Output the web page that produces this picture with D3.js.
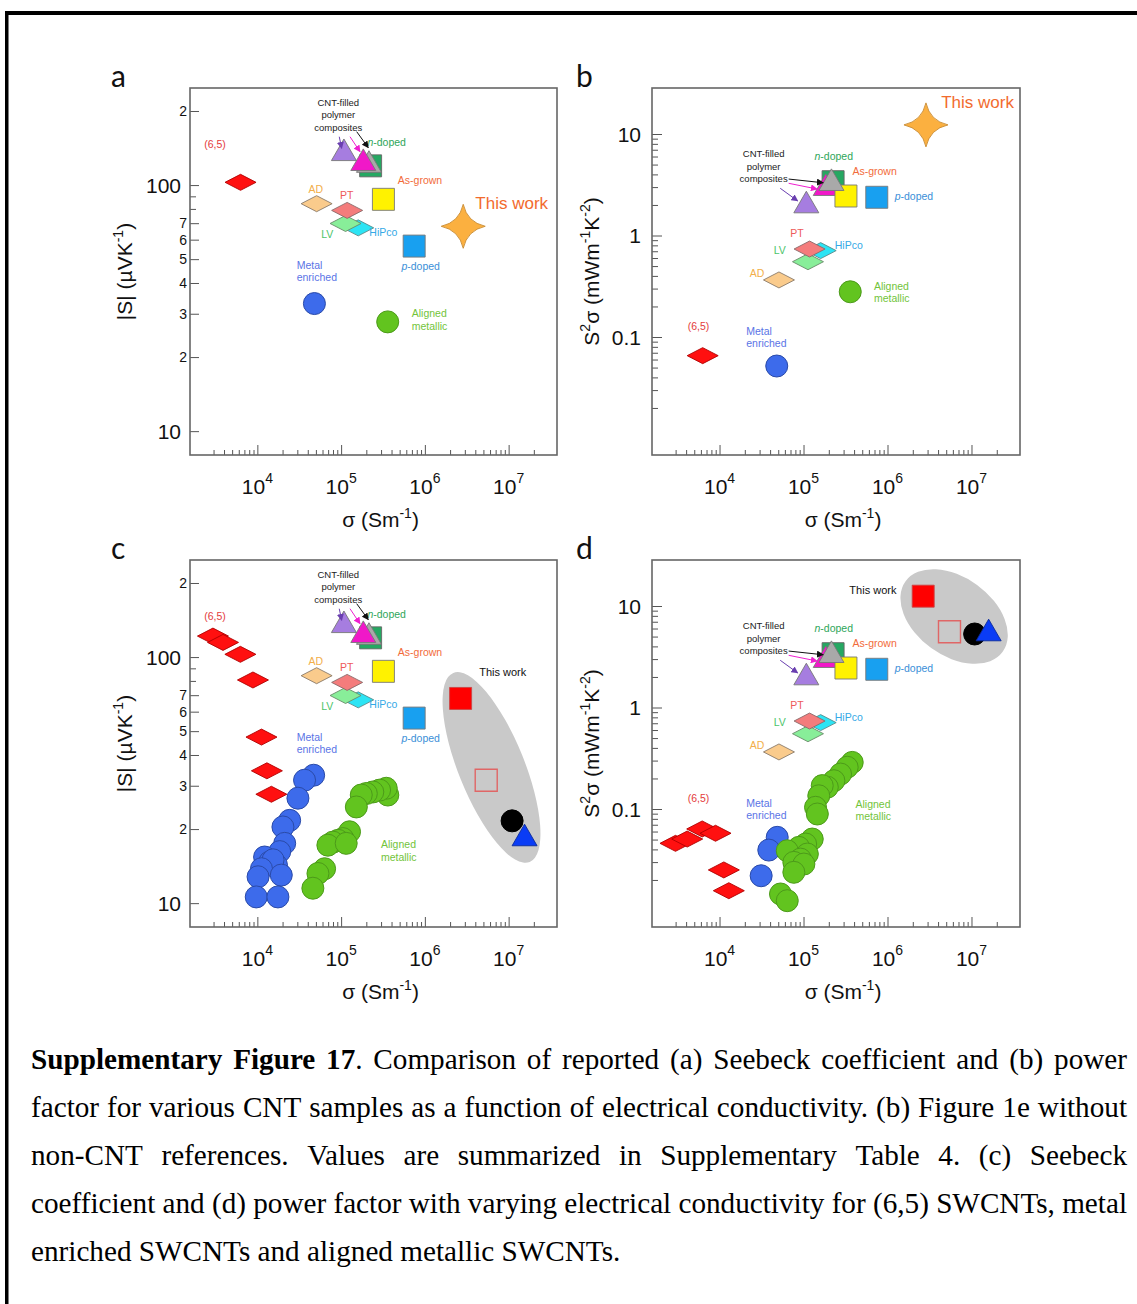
<!DOCTYPE html>
<html><head><meta charset="utf-8">
<script src="https://cdn.jsdelivr.net/npm/d3@7"></script>
<style>body{margin:0;background:#fff}svg{display:block}</style>
</head><body>
<svg id="fig" width="1137" height="1304"></svg>
<script>
// ---------------- DATA ----------------
// reported CNT samples (panels a/b and reference markers of c/d)
const refSamples = ["AD","PT","LV","HiPco","As-grown","p-doped","n-doped","Composite 1","Composite 2","Composite 3","Metal enriched","Aligned metallic","(6,5)","This work"];
const refSigma   = [5.1e4, 1.18e5, 1.13e5, 1.6e5, 3.2e5, 7.45e5, 2.25e5, 1.08e5, 1.84e5, 2.15e5, 4.8e4, 3.6e5, 6.3e3, 2.87e6];
const refSeebeck = [84, 78.9, 69.8, 67, 87.5, 56.5, 119.7, 134.5, 122.6, 120.5, 33, 27.8, 102.6, 68];
const refPF      = [0.365, 0.736, 0.552, 0.71, 2.45, 2.38, 3.39, 1.97, 2.92, 3.27, 0.0518, 0.279, 0.0655, 12.3];

// panel c : (6,5), metal enriched, aligned metallic series
const c65Sigma = [2.95e3, 3.89e3, 6.27e3, 8.86e3, 1.12e4, 1.30e4, 1.47e4];
const c65S     = [121.7, 114.7, 102.6, 80.7, 47.3, 34.5, 27.7];
const cMetalSigma = [4.70e4, 3.66e4, 3.05e4, 2.43e4, 2.02e4, 2.12e4, 1.85e4, 1.22e4, 1.40e4, 1.69e4, 1.54e4, 1.12e4, 1.93e4, 1.02e4, 9.7e3, 1.76e4];
const cMetalS     = [33.1, 31.6, 26.7, 21.7, 20.4, 17.5, 16.2, 15.4, 14.7, 14.3, 15.0, 13.8, 13.0, 12.8, 10.6, 10.6];
const cAlignSigma = [3.61e5, 3.46e5, 2.88e5, 2.39e5, 2.0e5, 1.74e5, 1.52e5, 1.26e5, 1.05e5, 9.2e4, 7.98e4, 6.95e4, 1.15e5, 6.35e4, 5.29e4, 4.6e4];
const cAlignS     = [27.5, 29.3, 28.8, 28.3, 27.9, 27.5, 24.6, 19.5, 18.3, 18.0, 17.7, 17.2, 17.5, 13.8, 13.2, 11.5];

// panel d
const d65Sigma = [2.99e3, 4.12e3, 6.22e3, 8.96e3, 1.125e4, 1.29e4];
const d65PF    = [0.0459, 0.0506, 0.0636, 0.0577, 0.0251, 0.01567];
const dMetalSigma = [4.86e4, 3.86e4, 3.13e4];
const dMetalPF    = [0.0526, 0.0394, 0.0220];
const dAlignSigma = [3.80e5, 3.31e5, 2.76e5, 2.30e5, 1.92e5, 1.67e5, 1.52e5, 1.39e5, 1.46e5, 1.27e5, 1.06e5, 8.8e4, 6.4e4, 1.11e5, 9.2e4, 7.67e4, 1.01e5, 7.67e4, 5.32e4, 6.4e4];
const dAlignPF    = [0.288, 0.258, 0.221, 0.190, 0.164, 0.170, 0.135, 0.104, 0.0893, 0.0506, 0.0452, 0.0419, 0.0388, 0.0360, 0.0321, 0.0298, 0.0287, 0.0238, 0.01455, 0.0125];

// "This work" samples in c/d
const twSamples = ["filled square","open square","circle","triangle"];
const twSigmaC  = [2.67e6, 5.4e6, 1.1e7, 1.55e7];
const twSeebeck = [67.9, 31.6, 21.6, 18.3];
const twSigmaD  = [2.66e6, 5.47e6, 1.09e7, 1.6e7];
const twPF      = [12.5, 5.58, 5.3, 5.35];

// axes
const X_DOMAIN  = [1570, 3.78e7];
const S_DOMAIN  = [8, 248];
const PF_DOMAIN = [0.00688, 28.4];
const xMajorTicks = [1e4, 1e5, 1e6, 1e7];
const xTickExp    = ["4","5","6","7"];
const sTicks      = [10,20,30,40,50,60,70,80,90,100,200];
const sTickLabels = ["10","2","3","4","5","6","7","","","100","2"];
const pfMajorTicks = [0.1, 1, 10];
const pfTickLabels = ["0.1","1","10"];

const captionLines = [
 "Supplementary Figure 17. Comparison of reported (a) Seebeck coefficient and (b) power",
 "factor for various CNT samples as a function of electrical conductivity. (b) Figure 1e without",
 "non-CNT references. Values are summarized in Supplementary Table 4. (c) Seebeck",
 "coefficient and (d) power factor with varying electrical conductivity for (6,5) SWCNTs, metal",
 "enriched SWCNTs and aligned metallic SWCNTs."
];

// ---------------- STYLE ----------------
const SANS = "'Liberation Sans', Arial, sans-serif";
const refStyle = {
 "AD":{shape:"diamond",fill:"#FACB8C",stroke:"#8a7a6a"},
 "PT":{shape:"diamond",fill:"#F47C7C",stroke:"#8a6a6a"},
 "LV":{shape:"diamond",fill:"#88EE99",stroke:"#6a8a6a"},
 "HiPco":{shape:"diamond",fill:"#2CE4F4",stroke:"#5a8a8a"},
 "As-grown":{shape:"square",fill:"#FFF200",stroke:"#777"},
 "p-doped":{shape:"square",fill:"#18A0F0",stroke:"#777"},
 "n-doped":{shape:"square",fill:"#25A862",stroke:"#666"},
 "Composite 1":{shape:"triangle",fill:"#A67DE0",stroke:"#777"},
 "Composite 2":{shape:"triangle",fill:"#F018C8",stroke:"#777"},
 "Composite 3":{shape:"triangle",fill:"#A9A9A9",stroke:"#777"},
 "Metal enriched":{shape:"circle",fill:"#3D6BEB",stroke:"#2a4aa8"},
 "Aligned metallic":{shape:"circle",fill:"#62C41F",stroke:"#4c9a1a"},
 "(6,5)":{shape:"diamond",fill:"#FF1010",stroke:"#b00000"},
 "This work":{shape:"star",fill:"#FBB040",stroke:"#c88a30"}
};
const twStyle = {
 "filled square":{shape:"square",fill:"#FF0000",stroke:"#c44"},
 "open square":{shape:"square",fill:"none",stroke:"#E06666"},
 "circle":{shape:"circle",fill:"#000",stroke:"#000"},
 "triangle":{shape:"triangle",fill:"#0A3CF5",stroke:"#0a2a9a"}
};
const C = {r65:"#E43B3B", nd:"#2EA65A", ag:"#F26B3A", ad:"#F2AE4A", pt:"#EE5A5A", tw:"#F26B2E",
  lv:"#4CC46A", hp:"#35A9E6", pd:"#3A8FD8", me:"#5A74E6", al:"#72C43A", blk:"#222"};

function symPath(shape){
  switch(shape){
    case "diamond": return "M0,-8L15.5,0L0,8L-15.5,0Z";
    case "square": return "M-11,-11H11V11H-11Z";
    case "triangle": return "M0,-14.4L12.5,7.2L-12.5,7.2Z";
    case "star": return "M0,-22Q4,-4 22,0Q4,4 0,22Q-4,4 -22,0Q-4,-4 0,-22Z";
  }
}
function drawMark(g, x, y, st){
  if(st.shape==="circle"){
    g.append("circle").attr("cx",x).attr("cy",y).attr("r",11)
     .attr("fill",st.fill).attr("stroke",st.stroke).attr("stroke-width",1);
  } else {
    g.append("path").attr("d",symPath(st.shape)).attr("transform",`translate(${x},${y})`)
     .attr("fill",st.fill).attr("stroke",st.stroke).attr("stroke-width",st.fill==="none"?1.4:0.9);
  }
}

const svg = d3.select("#fig");
svg.append("rect").attr("width",1137).attr("height",1304).attr("fill","#fff");
// frame lines
svg.append("rect").attr("x",5).attr("y",11).attr("width",1132).attr("height",4).attr("fill","#000");
svg.append("rect").attr("x",5).attr("y",11).attr("width",3.5).attr("height",1293).attr("fill","#000");

const panels = [
 {id:"a", x0:190, x1:557, y0:88, y1:455, kind:"S", lx:111},
 {id:"b", x0:652, x1:1020, y0:88, y1:455, kind:"PF", lx:576},
 {id:"c", x0:190, x1:557, y0:560, y1:927, kind:"S", lx:111},
 {id:"d", x0:652, x1:1020, y0:560, y1:927, kind:"PF", lx:576}
];

// arrow markers
const defs = svg.append("defs");
[["blk","#111"],["mag","#F020D0"],["pur","#6A3FB0"]].forEach(([k,c])=>{
  defs.append("marker").attr("id","ah-"+k).attr("viewBox","0 0 10 10").attr("refX",9).attr("refY",5)
   .attr("markerWidth",7).attr("markerHeight",7).attr("orient","auto-start-reverse")
   .attr("markerUnits","userSpaceOnUse")
   .append("path").attr("d","M0,0L10,5L0,10Z").attr("fill",c);
});

function setupPanel(p){
  const g = svg.append("g");
  const x = d3.scaleLog().domain(X_DOMAIN).range([p.x0,p.x1]);
  const y = d3.scaleLog().domain(p.kind==="S"?S_DOMAIN:PF_DOMAIN).range([p.y1,p.y0]);
  const P = {p,g,x,y};
  P.bg = g.append("g"); P.marks = g.append("g"); P.ann = g.append("g");
  return P;
}

function drawAxes(P){
  const {p,g,x,y} = P;
  const ax = g.append("g");
  const xMinor = [];
  for(let e=3;e<=7;e++) for(let m=2;m<=9;m++){ const v=m*Math.pow(10,e); if(v>=3e3 && v<=2.1e7) xMinor.push(v); }
  const axB = ax.append("g").attr("transform",`translate(0,${p.y1})`);
  axB.call(d3.axisBottom(x).tickValues(xMinor).tickSize(-5).tickFormat(""));
  const axB2 = ax.append("g").attr("transform",`translate(0,${p.y1})`);
  axB2.call(d3.axisBottom(x).tickValues(xMajorTicks).tickSize(-10).tickFormat(""));
  const axL = ax.append("g").attr("transform",`translate(${p.x0},0)`);
  const axL2 = ax.append("g").attr("transform",`translate(${p.x0},0)`);
  if(p.kind==="S"){
    const lab = sTicks.filter((v,i)=>sTickLabels[i]!=="");
    const unl = sTicks.filter((v,i)=>sTickLabels[i]==="");
    axL.call(d3.axisLeft(y).tickValues(unl).tickSize(-6).tickFormat(""));
    axL2.call(d3.axisLeft(y).tickValues(lab).tickSize(-9).tickFormat(""));
  } else {
    const minor=[];
    for(let e=-2;e<=0;e++) for(let m=2;m<=9;m++) minor.push(m*Math.pow(10,e));
    axL.call(d3.axisLeft(y).tickValues(minor).tickSize(-6).tickFormat(""));
    axL2.call(d3.axisLeft(y).tickValues(pfMajorTicks).tickSize(-10).tickFormat(""));
  }
  ax.selectAll(".domain").remove();
  ax.selectAll(".tick line").attr("stroke","#555").attr("stroke-width",1);
  g.append("rect").attr("x",p.x0).attr("y",p.y0).attr("width",p.x1-p.x0).attr("height",p.y1-p.y0)
   .attr("fill","none").attr("stroke","#666").attr("stroke-width",1.6);
  const tl = g.append("g").attr("font-family",SANS).attr("fill","#111");
  xMajorTicks.forEach((v,i)=>{
    const t = tl.append("text").attr("x",x(v)).attr("y",p.y1+39).attr("text-anchor","middle").attr("font-size",21);
    t.append("tspan").text("10");
    t.append("tspan").attr("dy",-11).attr("font-size",14).text(xTickExp[i]);
  });
  const xt = tl.append("text").attr("x",(p.x0+p.x1)/2+7).attr("y",p.y1+72).attr("text-anchor","middle").attr("font-size",21);
  xt.append("tspan").text("σ (Sm");
  xt.append("tspan").attr("dy",-9).attr("font-size",14).text("-1");
  xt.append("tspan").attr("dy",9).text(")");
  if(p.kind==="S"){
    sTicks.forEach((v,i)=>{
      const s=sTickLabels[i]; if(!s) return;
      const big = s.length>1;
      tl.append("text").attr("x",big?p.x0-9:p.x0-3).attr("y",y(v)).attr("dy","0.36em")
        .attr("text-anchor","end").attr("font-size",big?21:14).text(s);
    });
    const yt = tl.append("text").attr("transform",`translate(${p.x0-58},${(p.y0+p.y1)/2}) rotate(-90)`)
      .attr("text-anchor","middle").attr("font-size",21);
    yt.append("tspan").text("|S| (µVK");
    yt.append("tspan").attr("dy",-9).attr("font-size",14).text("-1");
    yt.append("tspan").attr("dy",9).text(")");
  } else {
    pfMajorTicks.forEach((v,i)=>{
      tl.append("text").attr("x",p.x0-11).attr("y",y(v)).attr("dy","0.36em")
        .attr("text-anchor","end").attr("font-size",21).text(pfTickLabels[i]);
    });
    const yt = tl.append("text").attr("transform",`translate(${p.x0-53},${(p.y0+p.y1)/2}) rotate(-90)`)
      .attr("text-anchor","middle").attr("font-size",21);
    yt.append("tspan").text("S");
    yt.append("tspan").attr("dy",-9).attr("font-size",14).text("2");
    yt.append("tspan").attr("dy",9).text("σ (mWm");
    yt.append("tspan").attr("dy",-9).attr("font-size",14).text("-1");
    yt.append("tspan").attr("dy",9).text("K");
    yt.append("tspan").attr("dy",-9).attr("font-size",14).text("-2");
    yt.append("tspan").attr("dy",9).text(")");
  }
  svg.append("text").attr("x",p.lx).attr("y",p.y0-1)
    .attr("font-family","Lato, 'Open Sans', sans-serif").attr("font-size",30).attr("fill","#111").text(p.id);
}

function drawLabels(P, labels){
  labels.forEach(L=>{
    const lh = L.lh || 12.5;
    L.lines.forEach((line,k)=>{
      const t = P.ann.append("text").attr("x",P.x(L.s)).attr("y",P.y(L.v)+k*lh)
        .attr("dominant-baseline","central").attr("text-anchor",L.anchor||"middle")
        .attr("font-family",SANS).attr("font-size",L.size||10.5).attr("fill",L.color);
      const parts = Array.isArray(line)?line:[[line,0]];
      parts.forEach(([s,it])=>{ const sp=t.append("tspan").text(s); if(it) sp.attr("font-style","italic"); });
    });
  });
}
function drawArrows(P, arrows){
  arrows.forEach(A=>{
    P.ann.append("line").attr("x1",P.x(A.from[0])).attr("y1",P.y(A.from[1]))
      .attr("x2",P.x(A.to[0])).attr("y2",P.y(A.to[1]))
      .attr("stroke",A.color).attr("stroke-width",1).attr("marker-end",`url(#ah-${A.m})`);
  });
}
function drawRefs(P, order, vals, skip){
  order.forEach(name=>{
    if(skip && skip.includes(name)) return;
    const i = refSamples.indexOf(name);
    drawMark(P.marks, P.x(refSigma[i]), P.y(vals[i]), refStyle[name]);
  });
}
function drawSeries(P, xs, ys, st){
  xs.forEach((s,i)=>drawMark(P.marks, P.x(s), P.y(ys[i]), st));
}
function drawEllipse(P, cs, cv, rx, ry, ang){
  P.bg.append("ellipse").attr("cx",0).attr("cy",0).attr("rx",rx).attr("ry",ry)
    .attr("transform",`translate(${P.x(cs)},${P.y(cv)}) rotate(${ang})`).attr("fill","#C9C9C9");
}

const orderS  = ["(6,5)","HiPco","LV","PT","AD","p-doped","As-grown","n-doped","Composite 1","Composite 3","Composite 2","Metal enriched","Aligned metallic","This work"];
const orderPF = ["(6,5)","HiPco","LV","PT","AD","p-doped","n-doped","Composite 2","As-grown","Composite 3","Composite 1","Metal enriched","Aligned metallic","This work"];

const ND = [["n",1],["-doped",0]], PD = [["p",1],["-doped",0]];
const labelsA = [
 {lines:["(6,5)"], s:3.12e3, v:146.4, color:C.r65},
 {lines:["CNT-filled","polymer","composites"], s:9.25e4, v:218, color:C.blk, size:9.5, lh:12.5},
 {lines:[ND], s:3.5e5, v:150, color:C.nd},
 {lines:["As-grown"], s:8.75e5, v:104.8, color:C.ag},
 {lines:["AD"], s:5.0e4, v:96.4, color:C.ad},
 {lines:["PT"], s:1.17e5, v:91.1, color:C.pt},
 {lines:["This work"], s:1.088e7, v:84.3, color:C.tw, size:17},
 {lines:["LV"], s:6.84e4, v:63.2, color:C.lv},
 {lines:["HiPco"], s:3.19e5, v:64.6, color:C.hp},
 {lines:[PD], s:8.91e5, v:46.9, color:C.pd},
 {lines:["Metal","enriched"], s:2.95e4, v:47.3, color:C.me, anchor:"start", lh:12.3},
 {lines:["Aligned","metallic"], s:6.97e5, v:30.1, color:C.al, anchor:"start", lh:12.7}
];
const labelsC = labelsA.map(L=>{
  if(L.lines[0]==="This work") return {lines:["This work"], s:8.5e6, v:86.6, color:"#111", size:11};
  if(L.lines[0]==="Aligned") return {...L, s:2.99e5, v:17.4};
  return L;
});
const labelsB = [
 {lines:["This work"], s:1.18e7, v:20.8, color:C.tw, size:17},
 {lines:["CNT-filled","polymer","composites"], s:3.35e4, v:6.45, color:C.blk, size:9.5, lh:12.2},
 {lines:[ND], s:2.29e5, v:6.11, color:C.nd},
 {lines:["As-grown"], s:7.02e5, v:4.32, color:C.ag},
 {lines:[PD], s:1.217e6, v:2.45, color:C.pd, anchor:"start"},
 {lines:["PT"], s:8.38e4, v:1.066, color:C.pt},
 {lines:["HiPco"], s:3.46e5, v:0.806, color:C.hp},
 {lines:["LV"], s:5.2e4, v:0.72, color:C.lv},
 {lines:["AD"], s:2.79e4, v:0.432, color:C.ad},
 {lines:["Aligned","metallic"], s:6.89e5, v:0.32, color:C.al, anchor:"start", lh:12},
 {lines:["(6,5)"], s:5.61e3, v:0.1283, color:C.r65},
 {lines:["Metal","enriched"], s:2.08e4, v:0.1146, color:C.me, anchor:"start", lh:12.3}
];
const labelsD = labelsB.map(L=>{
  if(L.lines[0]==="This work") return {lines:["This work"], s:6.7e5, v:14.5, color:"#111", size:11};
  if(L.lines[0]==="Aligned") return {...L, s:4.16e5, v:0.112};
  return L;
});
const arrowsS = [
 {from:[1.535e5,164.8], to:[2.11e5,141.9], color:"#111", m:"blk"},
 {from:[1.277e5,157.2], to:[1.681e5,136.6], color:"#F020D0", m:"mag"},
 {from:[9.5e4,157.2], to:[1.016e5,141.1], color:"#6A3FB0", m:"pur"}
];
const arrowsPF = [
 {from:[6.65e4,3.60], to:[1.714e5,3.31], color:"#111", m:"blk"},
 {from:[6.65e4,3.27], to:[1.452e5,2.87], color:"#F020D0", m:"mag"},
 {from:[5.28e4,2.92], to:[8.52e4,2.19], color:"#6A3FB0", m:"pur"}
];

const PA = setupPanel(panels[0]), PB = setupPanel(panels[1]), PC = setupPanel(panels[2]), PDn = setupPanel(panels[3]);
[PA,PB,PC,PDn].forEach(drawAxes);

// a
drawRefs(PA, orderS, refSeebeck);
drawLabels(PA, labelsA); drawArrows(PA, arrowsS);
// b
drawRefs(PB, orderPF, refPF);
drawLabels(PB, labelsB); drawArrows(PB, arrowsPF);
// c
const skipC = ["(6,5)","Metal enriched","Aligned metallic","This work"];
drawEllipse(PC, 6.245e6, 35.6, 102, 33, 68);
drawSeries(PC, c65Sigma, c65S, refStyle["(6,5)"]);
drawRefs(PC, orderS, refSeebeck, skipC);
drawSeries(PC, cMetalSigma, cMetalS, refStyle["Metal enriched"]);
drawSeries(PC, cAlignSigma, cAlignS, refStyle["Aligned metallic"]);
twSamples.forEach((n,i)=>drawMark(PC.marks, PC.x(twSigmaC[i]), PC.y(twSeebeck[i]), twStyle[n]));
drawLabels(PC, labelsC); drawArrows(PC, arrowsS);
// d
drawEllipse(PDn, 6.21e6, 7.88, 60, 39, 36);
drawSeries(PDn, d65Sigma, d65PF, refStyle["(6,5)"]);
drawRefs(PDn, orderPF, refPF, skipC);
drawSeries(PDn, dMetalSigma, dMetalPF, refStyle["Metal enriched"]);
drawSeries(PDn, dAlignSigma, dAlignPF, refStyle["Aligned metallic"]);
twSamples.forEach((n,i)=>drawMark(PDn.marks, PDn.x(twSigmaD[i]), PDn.y(twPF[i]), twStyle[n]));
drawLabels(PDn, labelsD); drawArrows(PDn, arrowsPF);

// caption (justified)
(function(){
  const g = svg.append("g").attr("font-family","'Liberation Serif','Times New Roman',serif").attr("font-size",29.2).attr("fill","#000");
  const probe = g.append("text").text("a a"); const probe2 = g.append("text").text("aa");
  const spaceW = probe.node().getComputedTextLength()-probe2.node().getComputedTextLength();
  probe.remove(); probe2.remove();
  captionLines.forEach((line,i)=>{
    const y = 1069 + i*48;
    const words = line.split(" ");
    const nodes = words.map((w,j)=>{
      const t = g.append("text").attr("y",y);
      if(i===0 && j<3){
        if(w.endsWith(".")){ t.append("tspan").attr("font-weight","bold").text(w.slice(0,-1)); t.append("tspan").text("."); }
        else t.append("tspan").attr("font-weight","bold").text(w);
      } else t.text(w);
      return t;
    });
    const widths = nodes.map(n=>n.node().getComputedTextLength());
    const last = i===captionLines.length-1;
    const gap = last ? spaceW : Math.max(spaceW*0.6,(1127-31-d3.sum(widths))/(words.length-1));
    let xx = 31;
    nodes.forEach((n,j)=>{ n.attr("x",xx); xx += widths[j]+gap; });
  });
})();
</script>
</body></html>
